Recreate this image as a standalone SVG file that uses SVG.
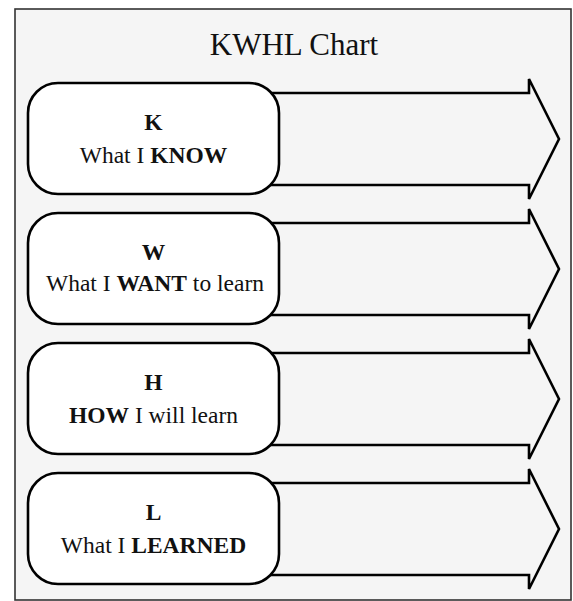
<svg xmlns="http://www.w3.org/2000/svg" width="573" height="601" viewBox="0 0 573 601">
<defs>
<style>
.frame{fill:#f5f5f5;stroke:#333;stroke-width:1.6}
.arrow{fill:#f5f5f5;stroke:#000;stroke-width:2.6;stroke-linejoin:miter}
.box{fill:#fff;stroke:#000;stroke-width:2.6}
text{font-family:'Liberation Serif','DejaVu Serif',serif;fill:#111;text-anchor:middle}
.title{font-size:31px}
.lbl{font-size:23.5px}
.b{font-weight:bold}
</style>
</defs>
<rect class="frame" x="15" y="9" width="556" height="591"/>
<text class="title" x="294" y="55">KWHL Chart</text>
<g id="connectors">
<path class="arrow" d="M270,93 H529 V79 L559,139 L529,199 V185 H270 Z"/>
<path class="arrow" d="M270,223 H529 V209 L559,269 L529,329 V315 H270 Z"/>
<path class="arrow" d="M270,353 H529 V339 L559,399 L529,459 V445 H270 Z"/>
<path class="arrow" d="M270,483 H529 V469 L559,529 L529,589 V575 H270 Z"/>
</g>
<g id="node-k">
<rect class="box" x="28" y="83" width="251" height="111" rx="30"/>
<text class="lbl b" x="153.5" y="130">K</text>
<text class="lbl" x="153.5" y="163">What I <tspan class="b">KNOW</tspan></text>
</g>
<g id="node-w">
<rect class="box" x="28" y="213" width="251" height="111" rx="30"/>
<text class="lbl b" x="153.5" y="260">W</text>
<text class="lbl" x="155" y="291">What I <tspan class="b">WANT</tspan> to learn</text>
</g>
<g id="node-h">
<rect class="box" x="28" y="343" width="251" height="111" rx="30"/>
<text class="lbl b" x="153.5" y="390">H</text>
<text class="lbl" x="153.5" y="423"><tspan class="b">HOW</tspan> I will learn</text>
</g>
<g id="node-l">
<rect class="box" x="28" y="473" width="251" height="111" rx="30"/>
<text class="lbl b" x="153.5" y="520">L</text>
<text class="lbl" x="153.5" y="553">What I <tspan class="b">LEARNED</tspan></text>
</g>
</svg>
